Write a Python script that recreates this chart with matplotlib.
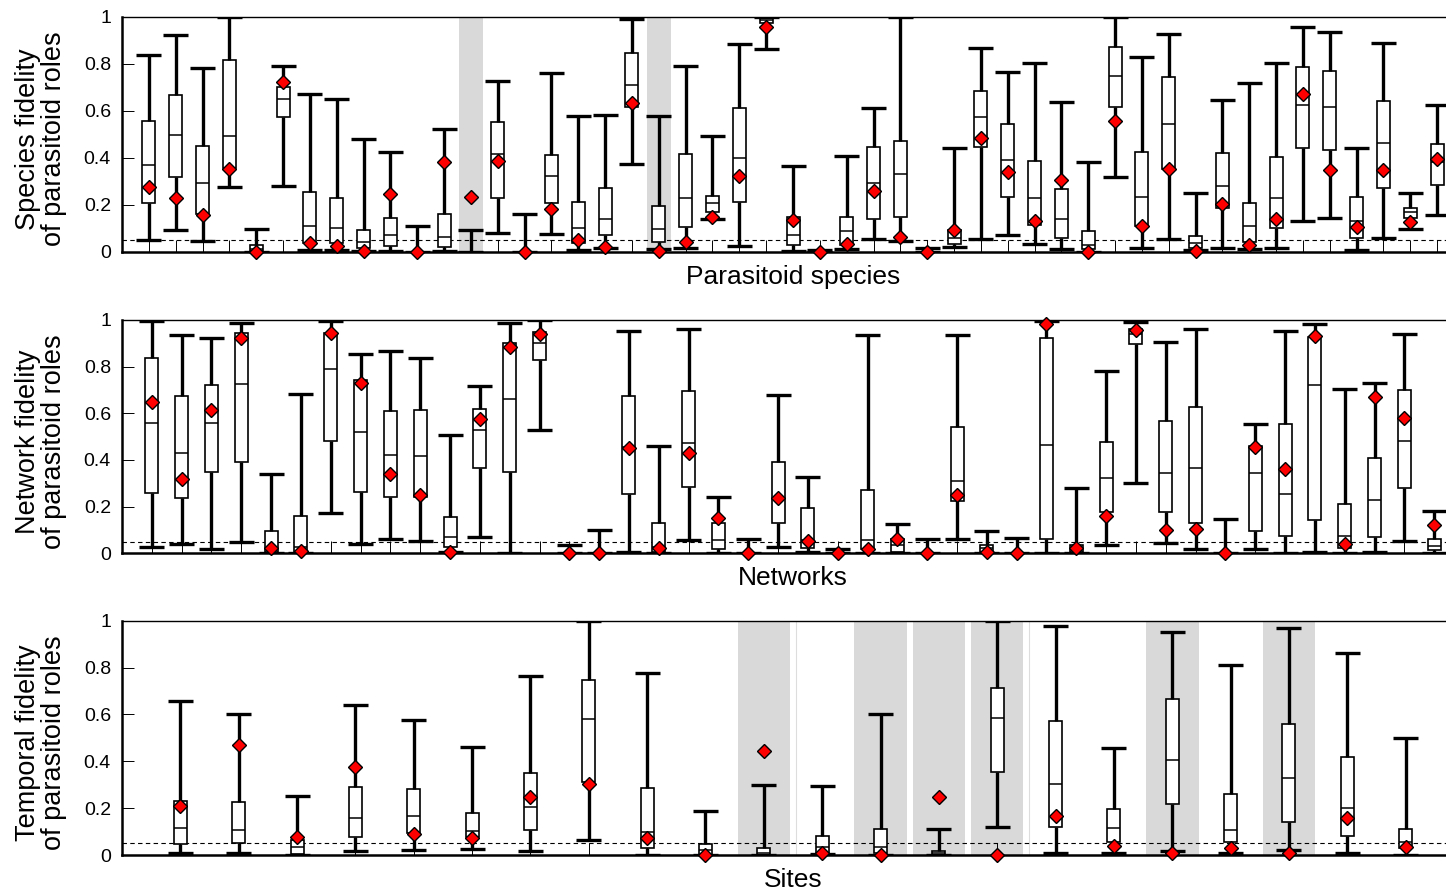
import matplotlib
matplotlib.use('agg')
import matplotlib.pyplot as plt
import numpy as np

plt.rcParams['font.family'] = ['Liberation Sans', 'DejaVu Sans']

# --- Parasitoid species (49) ---
sp_min = [0.05, 0.092, 0.045, 0.274, 0.0, 0.279, 0.007, 0.007, 0.004, 0.004,
          0.0, 0.001, 0.0, 0.078, 0.0, 0.074, 0.007, 0.017, 0.373, 0.011,
          0.014, 0.139, 0.024, 0.862, 0.004, 0.0, 0.011, 0.055, 0.045, 0.0,
          0.018, 0.055, 0.071, 0.033, 0.011, 0.0, 0.316, 0.014, 0.055, 0.007,
          0.014, 0.011, 0.014, 0.13, 0.142, 0.007, 0.057, 0.095, 0.156]
sp_q1 = [0.206, 0.319, 0.16, 0.355, 0.004, 0.574, 0.038, 0.035, 0.014, 0.024,
         0.0, 0.018, 0.0, 0.227, 0.0, 0.206, 0.035, 0.071, 0.617, 0.043,
         0.104, 0.17, 0.21, 0.975, 0.028, 0.0, 0.028, 0.139, 0.146, 0.0,
         0.031, 0.447, 0.234, 0.113, 0.057, 0.01, 0.617, 0.109, 0.35, 0.014,
         0.184, 0.043, 0.099, 0.443, 0.433, 0.06, 0.272, 0.142, 0.284]
sp_med = [0.369, 0.495, 0.292, 0.492, 0.012, 0.648, 0.109, 0.102, 0.04, 0.071,
          0.0, 0.064, 0.0, 0.417, 0.0, 0.322, 0.102, 0.138, 0.708, 0.096,
          0.227, 0.206, 0.40, 0.985, 0.071, 0.0, 0.088, 0.294, 0.329, 0.0,
          0.06, 0.572, 0.39, 0.227, 0.138, 0.028, 0.748, 0.234, 0.543, 0.035,
          0.279, 0.109, 0.227, 0.624, 0.617, 0.132, 0.461, 0.17, 0.38]
sp_q3 = [0.556, 0.667, 0.451, 0.816, 0.028, 0.70, 0.255, 0.228, 0.091, 0.143,
         0.0, 0.162, 0.0, 0.553, 0.0, 0.411, 0.213, 0.272, 0.847, 0.194,
         0.414, 0.238, 0.61, 0.995, 0.149, 0.0, 0.146, 0.447, 0.471, 0.0,
         0.092, 0.685, 0.543, 0.386, 0.265, 0.089, 0.87, 0.423, 0.745, 0.068,
         0.421, 0.209, 0.401, 0.787, 0.77, 0.231, 0.643, 0.187, 0.457]
sp_max = [0.837, 0.922, 0.78, 1.0, 0.098, 0.79, 0.67, 0.648, 0.478, 0.423,
          0.109, 0.521, 0.091, 0.728, 0.16, 0.759, 0.577, 0.582, 0.989, 0.579,
          0.791, 0.492, 0.882, 1.0, 0.365, 0.007, 0.409, 0.613, 1.0, 0.014,
          0.443, 0.865, 0.763, 0.801, 0.635, 0.383, 0.997, 0.827, 0.925, 0.248,
          0.645, 0.719, 0.804, 0.955, 0.933, 0.443, 0.889, 0.248, 0.624]
sp_obs = [0.274, 0.227, 0.156, 0.352, 0.0, 0.722, 0.035, 0.026, 0.004, 0.244,
          0.0, 0.383, 0.234, 0.386, 0.0, 0.182, 0.05, 0.021, 0.631, 0.004,
          0.04, 0.149, 0.323, 0.957, 0.135, 0.0, 0.031, 0.258, 0.064, 0.0,
          0.092, 0.482, 0.338, 0.132, 0.305, 0.0, 0.557, 0.109, 0.35, 0.004,
          0.201, 0.028, 0.14, 0.671, 0.348, 0.104, 0.348, 0.128, 0.393]
sp_shaded = [13, 20]

# --- Networks (44) ---
nw_min = [0.026, 0.041, 0.02, 0.047, 0.003, 0.003, 0.171, 0.039, 0.063, 0.051,
          0.006, 0.071, 0.003, 0.529, 0.0, 0.0, 0.007, 0.003, 0.057, 0.003,
          0.0, 0.026, 0.007, 0.0, 0.003, 0.003, 0.0, 0.063, 0.0, 0.0,
          0.003, 0.0, 0.034, 0.303, 0.043, 0.017, 0.0, 0.017, 0.003, 0.007,
          0.003, 0.007, 0.054, 0.0]
nw_q1 = [0.257, 0.236, 0.347, 0.39, 0.007, 0.007, 0.481, 0.261, 0.24, 0.243,
         0.029, 0.364, 0.347, 0.829, 0.0, 0.0, 0.253, 0.007, 0.286, 0.017,
         0.0, 0.131, 0.021, 0.0, 0.017, 0.007, 0.0, 0.226, 0.004, 0.0,
         0.061, 0.004, 0.176, 0.896, 0.179, 0.131, 0.0, 0.096, 0.073, 0.143,
         0.021, 0.071, 0.279, 0.014]
nw_med = [0.56, 0.429, 0.557, 0.726, 0.02, 0.029, 0.789, 0.52, 0.421, 0.417,
          0.071, 0.529, 0.661, 0.9, 0.0, 0.0, 0.454, 0.029, 0.474, 0.057,
          0.0, 0.236, 0.057, 0.0, 0.057, 0.036, 0.0, 0.31, 0.021, 0.0,
          0.463, 0.021, 0.321, 0.94, 0.343, 0.364, 0.0, 0.346, 0.254, 0.721,
          0.076, 0.229, 0.48, 0.031]
nw_q3 = [0.839, 0.674, 0.721, 0.943, 0.097, 0.16, 0.946, 0.743, 0.61, 0.614,
         0.157, 0.619, 0.9, 0.947, 0.0, 0.0, 0.674, 0.131, 0.696, 0.129,
         0.0, 0.393, 0.193, 0.0, 0.271, 0.06, 0.0, 0.54, 0.036, 0.0,
         0.921, 0.036, 0.476, 0.961, 0.569, 0.626, 0.0, 0.461, 0.554, 0.929,
         0.21, 0.41, 0.70, 0.06]
nw_max = [0.997, 0.934, 0.924, 0.989, 0.34, 0.681, 0.997, 0.856, 0.867, 0.836,
          0.509, 0.717, 0.989, 1.0, 0.036, 0.1, 0.954, 0.46, 0.96, 0.243,
          0.063, 0.679, 0.329, 0.02, 0.936, 0.126, 0.061, 0.936, 0.096, 0.064,
          0.997, 0.279, 0.781, 0.991, 0.904, 0.961, 0.147, 0.556, 0.954, 0.983,
          0.704, 0.729, 0.94, 0.183]
nw_obs = [0.647, 0.319, 0.614, 0.921, 0.024, 0.011, 0.943, 0.731, 0.339, 0.25,
          0.004, 0.576, 0.883, 0.939, 0.0, 0.0, 0.453, 0.021, 0.431, 0.15,
          0.0, 0.236, 0.054, 0.0, 0.017, 0.06, 0.0, 0.25, 0.004, 0.0,
          0.981, 0.021, 0.16, 0.957, 0.1, 0.104, 0.0, 0.456, 0.36, 0.933,
          0.039, 0.671, 0.579, 0.121]

# --- Sites (22) ---
st_min = [0.007, 0.007, 0.0, 0.017, 0.021, 0.024, 0.018, 0.064, 0.0, 0.0,
          0.0, 0.003, 0.0, 0.0, 0.118, 0.007, 0.007, 0.018, 0.007, 0.021,
          0.01, 0.0]
st_q1 = [0.047, 0.05, 0.005, 0.075, 0.092, 0.075, 0.107, 0.31, 0.028, 0.0,
         0.0, 0.007, 0.007, 0.0, 0.356, 0.121, 0.057, 0.218, 0.057, 0.142,
         0.083, 0.028]
st_med = [0.117, 0.107, 0.035, 0.159, 0.168, 0.104, 0.203, 0.579, 0.1, 0.02,
          0.01, 0.036, 0.036, 0.01, 0.586, 0.302, 0.114, 0.405, 0.107, 0.33,
          0.202, 0.057]
st_q3 = [0.23, 0.225, 0.065, 0.292, 0.282, 0.181, 0.349, 0.747, 0.287, 0.047,
         0.028, 0.081, 0.112, 0.018, 0.711, 0.573, 0.195, 0.664, 0.26, 0.559,
         0.42, 0.111]
st_max = [0.657, 0.6, 0.252, 0.639, 0.576, 0.462, 0.765, 1.0, 0.778, 0.188,
          0.299, 0.294, 0.6, 0.11, 1.0, 0.977, 0.458, 0.953, 0.811, 0.97,
          0.861, 0.498]
st_obs = [0.211, 0.469, 0.075, 0.377, 0.09, 0.071, 0.249, 0.303, 0.071, 0.0,
          0.444, 0.007, 0.0, 0.246, 0.0, 0.166, 0.04, 0.007, 0.028, 0.007,
          0.159, 0.036]
st_shaded = [11, 13, 14, 15, 18, 20]
st_thin = [11.55, 15.55]

W, H = 1446, 890
AX_L, AX_W = 122, 1342
yticks = [0, 0.2, 0.4, 0.6, 0.8, 1]
ytick_labels = ['0', '0.2', '0.4', '0.6', '0.8', '1']


def draw_panel(ax, lo, q1, med, q3, hi, obs, xlabel, ylabel, shaded=(), thin=()):
    n = len(med)
    pos = np.arange(1, n + 1)
    step = AX_W / (n + 1)  # pixels per category
    for s in shaded:
        ax.axvspan(s - 0.45, s + 0.45, color='#d9d9d9', lw=0, zorder=0)
    for t in thin:
        ax.axvline(t, color='#dddddd', lw=0.8, zorder=0)
    ax.axhline(0.05, color='black', lw=0.8, ls=(0, (4, 3)), zorder=1)

    stats = [dict(whislo=a, q1=b, med=c, q3=d, whishi=e)
             for a, b, c, d, e in zip(lo, q1, med, q3, hi)]
    ax.bxp(stats, positions=pos, widths=13 / step, capwidths=25 / step,
           showfliers=False, patch_artist=True, manage_ticks=False,
           boxprops=dict(facecolor='white', edgecolor='black', linewidth=1.2),
           medianprops=dict(color='black', linewidth=1.1),
           whiskerprops=dict(color='black', linewidth=2.4, solid_capstyle='butt'),
           capprops=dict(color='black', linewidth=2.4, solid_capstyle='butt'),
           zorder=3)
    ax.plot(pos, obs, 'D', ms=7, mfc='red', mec='black', mew=1.0,
            zorder=5, clip_on=False)

    ax.set_xlim(0, n + 1)
    ax.set_ylim(0, 1)
    ax.set_xticks(pos)
    ax.tick_params(axis='x', direction='in', length=8.5, width=0.7,
                   labelbottom=False)
    ax.set_yticks(yticks)
    ax.set_yticklabels(ytick_labels)
    ax.tick_params(axis='y', direction='in', length=8.5, width=0.7,
                   labelsize=14, pad=8)
    ax.spines['right'].set_visible(False)
    ax.spines['top'].set_linewidth(1.0)
    ax.spines['left'].set_linewidth(1.8)
    ax.spines['bottom'].set_linewidth(1.8)
    ax.set_xlabel(xlabel, fontsize=19, labelpad=9.5)
    ax.set_ylabel(ylabel, fontsize=19.5, linespacing=1.0)
    ax.yaxis.set_label_coords(-0.041, 0.48)


fig = plt.figure(figsize=(W / 100, H / 100), dpi=100)
tops = [16.7, 320, 620.7]
bottoms = [251.7, 553.3, 855]
axes = [fig.add_axes([AX_L / W, 1 - b / H, AX_W / W, (b - t) / H])
        for t, b in zip(tops, bottoms)]

draw_panel(axes[0], sp_min, sp_q1, sp_med, sp_q3, sp_max, sp_obs,
           'Parasitoid species', 'Species fidelity\nof parasitoid roles',
           shaded=sp_shaded)
draw_panel(axes[1], nw_min, nw_q1, nw_med, nw_q3, nw_max, nw_obs,
           'Networks', 'Network fidelity\nof parasitoid roles')
draw_panel(axes[2], st_min, st_q1, st_med, st_q3, st_max, st_obs,
           'Sites', 'Temporal fidelity\nof parasitoid roles',
           shaded=st_shaded, thin=st_thin)

fig.savefig('out.png', dpi=100)
